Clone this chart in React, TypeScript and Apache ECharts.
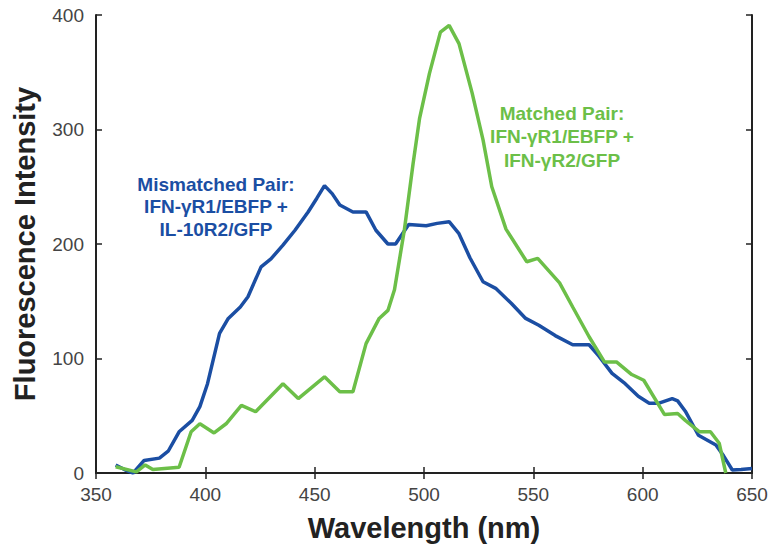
import React, { useEffect, useRef } from "react";
import * as echarts from "echarts";

const xTicks = [350, 400, 450, 500, 550, 600, 650];
const yTicks = [0, 100, 200, 300, 400];

const mismatched: [number, number][] = [
  [359, 7], [363, 3], [367, 0], [372, 11], [379, 13], [383, 19], [388, 36], [394, 46],
  [397.5, 58], [401, 78], [406.5, 122], [410.5, 135], [416, 145], [419.5, 154], [425.5, 180],
  [430, 187], [435.5, 199], [441, 212], [447, 228], [451, 240], [454.5, 251], [458, 244],
  [461.5, 234], [467.5, 228], [473.5, 228], [478, 212], [483.5, 200], [487, 200], [493, 217],
  [501, 216], [506, 218], [511.5, 219.5], [516, 209], [521, 188], [527, 167], [533, 161],
  [540, 148], [546.5, 135], [552.5, 129], [560, 120], [568, 112], [575.5, 112], [580, 102],
  [586, 87], [592, 78], [598, 67], [603, 61], [607.5, 61], [613.5, 65], [616, 63], [619.5, 54],
  [625.5, 33], [633.5, 24.5], [637, 15], [641, 2.6], [645, 3], [650, 4],
];

const matched: [number, number][] = [
  [359, 5.5], [368.5, 1], [372.5, 7], [376, 3], [388, 5], [393.5, 36], [397.5, 43], [404, 35],
  [409.5, 43], [416.5, 59], [423, 53.5], [435.5, 78], [442.5, 65], [454.5, 84], [461.5, 71],
  [467.5, 71], [473.5, 113], [479.5, 135], [483.5, 142], [486.5, 160], [491, 212], [495, 270],
  [498, 310], [502.5, 349], [507.5, 385], [511.5, 391], [516, 375], [522, 332], [527, 291],
  [531, 250], [537.5, 213], [543.5, 195], [547, 184.5], [552, 187.5], [562, 166], [568, 145],
  [575.5, 119], [582.5, 97], [588, 97], [595, 86], [600.5, 81], [610, 51], [616, 52],
  [619.5, 46], [626, 36], [631, 36], [635, 26], [638, 0],
];

const mismatchedLabel = ["Mismatched Pair:", "IFN-γR1/EBFP +", "IL-10R2/GFP"];
const matchedLabel = ["Matched Pair:", "IFN-γR1/EBFP +", "IFN-γR2/GFP"];

const BLUE = "#1b4ea3";
const GREEN = "#6cbf48";
const FONT = "'Liberation Sans', Arial, Helvetica, sans-serif";

export default function App() {
  const ref = useRef<HTMLDivElement>(null);
  useEffect(() => {
    if (!ref.current) return;
    const chart = echarts.init(ref.current, undefined, { renderer: "svg" });
    const axisLine = { show: true, lineStyle: { color: "#222", width: 2 } };
    const tick = { show: true, inside: true, length: 6, lineStyle: { color: "#222", width: 1.5 } };
    const label = { color: "#444", fontSize: 19, fontFamily: FONT };
    chart.setOption({
      animation: false,
      backgroundColor: "#fff",
      grid: { left: 96, right: 19, top: 15, bottom: 81 },
      xAxis: [
        {
          type: "value", min: 350, max: 650, interval: 50, position: "bottom",
          axisLine, axisTick: tick, splitLine: { show: false },
          axisLabel: { ...label, margin: 12, formatter: (v: number) => (xTicks.includes(v) ? String(v) : "") },
          name: "Wavelength (nm)", nameLocation: "middle", nameGap: 40,
          nameTextStyle: { fontSize: 29, fontWeight: "bold", color: "#222", fontFamily: FONT },
        },
        {
          type: "value", min: 350, max: 650, interval: 50, position: "top",
          axisLine, axisTick: tick, splitLine: { show: false }, axisLabel: { show: false },
        },
      ],
      yAxis: [
        {
          type: "value", min: 0, max: 400, interval: 100, position: "left",
          axisLine, axisTick: tick, splitLine: { show: false },
          axisLabel: { ...label, margin: 12, formatter: (v: number) => (yTicks.includes(v) ? String(v) : "") },
          name: "Fluorescence Intensity", nameLocation: "middle", nameGap: 57,
          nameTextStyle: { fontSize: 29, fontWeight: "bold", color: "#222", fontFamily: FONT },
        },
        {
          type: "value", min: 0, max: 400, interval: 100, position: "right",
          axisLine, axisTick: tick, splitLine: { show: false }, axisLabel: { show: false },
        },
      ],
      series: [
        {
          name: "Mismatched", type: "line", data: mismatched, showSymbol: false,
          lineStyle: { color: BLUE, width: 3.5 }, itemStyle: { color: BLUE },
        },
        {
          name: "Matched", type: "line", data: matched, showSymbol: false,
          lineStyle: { color: GREEN, width: 3.5 }, itemStyle: { color: GREEN },
        },
      ],
      graphic: [
        ...mismatchedLabel.map((t, i) => ({
          type: "text", x: 216, y: 184 + i * 22.5,
          style: { text: t, fill: BLUE, font: `bold 19px ${FONT}`, textAlign: "center", textVerticalAlign: "middle" },
        })),
        ...matchedLabel.map((t, i) => ({
          type: "text", x: 562, y: 113 + i * 23.5,
          style: { text: t, fill: GREEN, font: `bold 19px ${FONT}`, textAlign: "center", textVerticalAlign: "middle" },
        })),
      ],
    });
    return () => chart.dispose();
  }, []);
  return <div ref={ref} style={{ width: 771, height: 554, position: "absolute", left: 0, top: 0 }} />;
}
